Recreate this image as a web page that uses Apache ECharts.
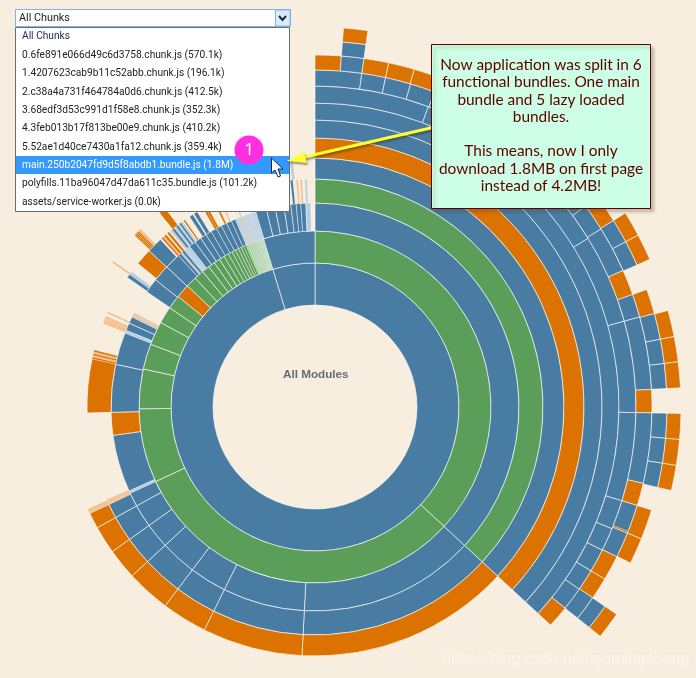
<!DOCTYPE html>
<html><head><meta charset="utf-8">
<style>html,body{margin:0;padding:0;background:#f7eee0}#c{width:696px;height:678px}</style>
<script src="https://cdn.jsdelivr.net/npm/echarts@6/dist/echarts.min.js"></script>
</head><body><div id="c"></div>
<script>
// Each ring: list of [angular span in degrees, kind]. b blue, g green, o orange, l pale blue, p pale orange, h pale green, n nothing
const ringEdges = [102,144,176,204,228,249,269,287,304,321,337,352,366,380];
const ring1 = [[343,'b'],[17,'b']];
const ring2 = [[132.8,'g'],[112.2,'g'],[24.5,'g'],[13.1,'g'],[8.4,'g'],[7.8,'g'],[5.6,'g'],[4.6,'g'],[4.6,'o'],
  [3.6,'g'],[3.2,'g'],[2.6,'g'],[2.2,'g'],[2,'g'],[1.8,'g'],[1.6,'g'],[1.4,'g'],[1.2,'g'],[1.1,'g'],[1,'g'],[.9,'g'],[.8,'g'],
  [.7,'h'],[.6,'h'],[.5,'h'],[.5,'h'],[.4,'h'],[.4,'h'],[.4,'h'],[.4,'h'],[.4,'h'],[.3,'h'],[.3,'h'],[.3,'h'],[.3,'h'],[.3,'h'],[.3,'h'],[17,'b']];
const ring3 = [[132.8,'b'],[50.2,'b'],[23.4,'b'],[10.6,'b'],[10.3,'b'],[7.2,'b'],[6.5,'b'],[4,'b'],[.7,'l'],[16.3,'b'],[6.5,'o'],[13.6,'b'],[9.2,'b'],[.8,'l'],[2.2,'b'],[1.9,'b'],[.5,'p'],[.4,'l'],[.4,'p'],[6.9,'n'],[4.2,'b'],[4.8,'b'],[4.6,'b'],
  [.9,'b'],[.5,'l'],[.7,'b'],[.5,'l'],[.6,'l'],[.8,'l'],[2,'b'],[1.9,'b'],[1.8,'b'],[1.7,'b'],[1.7,'b'],[1.6,'b'],[1.6,'b'],[1.5,'b'],[1.2,'b'],
  [.6,'l'],[.5,'l'],[.5,'l'],[.4,'p'],[.5,'l'],[.5,'l'],[.5,'l'],[.5,'l'],[.4,'l'],[.5,'l'],[.5,'l'],[.7,'l'],
  [3.1,'b'],[2.5,'b'],[2.5,'b'],[2,'b'],[1.5,'b'],[1.3,'b'],[1.4,'b'],[1.4,'l']];
const ring4 = [[132.8,'g'],[50.2,'b'],[23.4,'b'],[10.6,'b'],[10.3,'b'],[7.2,'b'],[6.5,'b'],[3.7,'b'],[.3,'p'],[.3,'p'],[.4,'p'],[.3,'p'],[22.5,'n'],[13.7,'o'],[.5,'o'],[.4,'p'],[.5,'o'],[.4,'p'],[.5,'o'],[7,'n'],[.4,'p'],[.4,'p'],[.4,'p'],[.4,'p'],[.4,'p'],[.8,'n'],[.4,'p'],[9.9,'n'],[1,'b'],[.8,'l'],[2.6,'n'],[4.3,'o'],[4,'b'],
  [.4,'n'],[.5,'o'],[.4,'p'],[.6,'o'],[.4,'n'],[.6,'o'],[.4,'n'],[.6,'l'],[.6,'b'],[.6,'l'],[.6,'b'],[.5,'l'],[.5,'b'],[.5,'l'],[.3,'n'],[.4,'o'],[1.4,'n'],[1,'b'],[.3,'n'],[1,'b'],[1.7,'n'],[.6,'o'],[.6,'o'],[1.9,'n'],[.5,'o'],[1,'n'],[.4,'p'],[3,'n'],[.4,'l'],[14.8,'n'],[.6,'b'],[.9,'n'],[.4,'p'],[.6,'n'],[.4,'p'],[.8,'n'],[.5,'l']];
const ring5 = [[132.8,'b'],[50.2,'o'],[23.4,'o'],[10.6,'o'],[10.3,'o'],[7.2,'o'],[6.5,'o'],[3.7,'o'],[.3,'p'],[.4,'p'],[.4,'p'],[59.7,'n'],[.4,'p'],[7.7,'n'],[.4,'o'],[.3,'o'],[.4,'o'],[.3,'o'],[.3,'p'],[.3,'p'],[5.7,'n'],[1.7,'o'],[31.2,'n'],[.7,'l']];
const ring6 = [[132.8,'o']];
const ring7 = [[132.8,'b']];
const ring8 = [[132.8,'b']];
const ring9 = [[20.7,'b'],[37.6,'b'],[16.2,'b'],[16.5,'b'],[16,'b'],[5.3,'b'],[4.2,'b'],[4.2,'b'],[3.9,'b'],[4.2,'b'],[4,'o']];
const ring10 = [[8,'b'],[4.1,'b'],[4.4,'b'],[4.3,'b'],[32.6,'b'],[4.7,'b'],[8,'b'],[4.4,'o'],[4,'b'],[12.5,'b'],[4,'o'],[12.1,'b'],[3.9,'o'],[4.7,'b'],[.3,'o'],[4.4,'b'],[4.3,'o'],[3.8,'o'],[4.3,'b']];
const ring11 = [[4.3,'o'],[3.7,'b'],[4.1,'o'],[4.3,'o'],[4.4,'o'],[32.6,'n'],[4.6,'o'],[4,'b'],[4.2,'b'],[4.3,'n'],[4.1,'o'],[4.3,'b'],[4,'b'],[4.1,'b'],[4,'n'],[4.1,'b'],[4.1,'b'],[4,'b'],[3.8,'n'],[5,'o'],[4.3,'o'],[8.2,'n'],[4.3,'b']];
const ring12 = [[4.3,'n'],[3.7,'b'],[50,'n'],[4,'o'],[4.2,'o'],[8.5,'n'],[4.2,'o'],[4,'o'],[4.1,'o'],[4,'n'],[4.1,'o'],[4.1,'o'],[4,'o'],[21.3,'n'],[4.3,'o']];
const ring13 = [[4.3,'n'],[3.7,'o']];
const rings = [ring1,ring2,ring3,ring4,ring5,ring6,ring7,ring8,ring9,ring10,ring11,ring12,ring13];

const chunkLabels = ['All Chunks','0.6fe891e066d49c6d3758.chunk.js (570.1k)','1.4207623cab9b11c52abb.chunk.js (196.1k)','2.c38a4a731f464784a0d6.chunk.js (412.5k)','3.68edf3d53c991d1f58e8.chunk.js (352.3k)','4.3feb013b17f813be00e9.chunk.js (410.2k)','5.52ae1d40ce7430a1fa12.chunk.js (359.4k)','main.250b2047fd9d5f8abdb1.bundle.js (1.8M)','polyfills.11ba96047d47da611c35.bundle.js (101.2k)','assets/service-worker.js (0.0k)'];
const chunkRowY = [36,55.5,73.5,92,110.5,128.5,147,165.5,183.5,202];
const noteLines = ['Now application was split in 6','functional bundles. One main','bundle and 5 lazy loaded','bundles.','','This means, now I only','download 1.8MB on first page','instead of 4.2MB!'];
const noteLineY = [65,82.5,100,117.5,135,151.5,169,186.5];
const centerLabel = 'All Modules';
const watermark = 'https://blog.csdn.net/qjumingsheng';

const palette = {b:'#487ca3',g:'#5a9e5a',o:'#dc7200',l:'#b5cde0',p:'#f2b67c',h:'#a5cfa6',n:'transparent'};
const WHITE = 'rgba(255,255,255,0.85)';

function pieFor(ring, i){
  const used = ring.reduce((a,s)=>a+s[0],0);
  const items = ring.concat(used < 359.99 ? [[360-used,'n']] : []);
  return {
    type:'pie', center:[315,407], radius:[ringEdges[i],ringEdges[i+1]],
    startAngle:90, clockwise:true, minAngle:0, silent:true, animation:false,
    label:{show:false}, labelLine:{show:false}, emphasis:{disabled:true},
    data:items.map(s=>({
      value:s[0],
      itemStyle:{
        color:palette[s[1]],
        borderColor:s[1]==='n'?'transparent':WHITE,
        borderWidth:s[1]==='n'?0:(s[0]<0.9?0.2:(s[0]<1.8?0.5:0.7))
      }
    }))
  };
}

const UI = 'Roboto, "Noto Sans", Tahoma, sans-serif';
const g = [];
// center label
g.push({type:'text',left:283,top:369,z:5,style:{text:centerLabel,font:'bold 11.7px "Liberation Sans", Arial, sans-serif',fill:'#666c75'}});
// watermark
g.push({type:'text',left:442,top:652,z:5,style:{text:watermark,font:'16px "Liberation Sans", Arial, sans-serif',fill:'rgba(255,255,255,0.4)',shadowColor:'rgba(120,110,90,0.25)',shadowBlur:1,shadowOffsetX:1,shadowOffsetY:1}});
// dropdown list
g.push({type:'rect',z:10,shape:{x:15.5,y:27.5,width:274,height:184},style:{fill:'#fff',stroke:'#6d6d6d',lineWidth:1}});
g.push({type:'rect',z:11,shape:{x:16,y:156,width:273,height:18},style:{fill:'#3399ff'}});
chunkLabels.forEach((t,i)=>g.push({type:'text',z:12,style:{text:t,x:22,y:chunkRowY[i],verticalAlign:'middle',font:'10.2px '+UI,fill:i===7?'#ffffff':(i===0?'#1a2a4a':'#222222')}}));
// select box
g.push({type:'rect',z:12,shape:{x:15.5,y:9.5,width:275,height:17},style:{fill:'#fff',stroke:'#7eb4ea',lineWidth:1}});
g.push({type:'rect',z:13,shape:{x:275.5,y:10,width:14.5,height:16},style:{fill:'#dcebfb',stroke:'#7eb4ea',lineWidth:1}});
g.push({type:'polyline',z:14,shape:{points:[[279,16],[282.5,20],[286,16]]},style:{stroke:'#1c2a3a',lineWidth:2,fill:null}});
g.push({type:'text',z:13,style:{text:chunkLabels[0],x:19,y:18,verticalAlign:'middle',font:'10.8px '+UI,fill:'#222'}});
// badge
g.push({type:'circle',z:15,shape:{cx:249,cy:150,r:14.5},style:{fill:'#ff2fe0'}});
g.push({type:'text',z:16,style:{text:'1',x:249,y:150,align:'center',verticalAlign:'middle',font:'17px "Noto Sans", sans-serif',fill:'#fff'}});
// cursor
g.push({type:'polygon',z:16,shape:{points:[[271.5,158],[271.5,173],[275,170],[278,177],[280.5,176],[278,169],[283,169]]},style:{fill:'#fff',stroke:'#14233a',lineWidth:1}});
// callout
g.push({type:'rect',z:18,shape:{x:431.5,y:44.5,width:219,height:164},style:{fill:'#ccffe6',stroke:'#5e0000',lineWidth:1,shadowColor:'rgba(80,70,50,0.3)',shadowBlur:3,shadowOffsetX:3,shadowOffsetY:3}});
noteLines.forEach((t,i)=>g.push({type:'text',z:19,style:{text:t,x:541,y:noteLineY[i],align:'center',verticalAlign:'middle',font:'15.4px Lato, "Noto Sans", sans-serif',fill:'#5e0000'}}));
// arrow
const sh = {shadowColor:'rgba(60,50,30,0.5)',shadowBlur:2,shadowOffsetX:1,shadowOffsetY:2};
g.push({type:'line',z:17,shape:{x1:435,y1:127,x2:300,y2:158},style:Object.assign({stroke:'#ffff33',lineWidth:3},sh)});
g.push({type:'polygon',z:17,shape:{points:[[287,161],[304,152],[307,163]]},style:Object.assign({fill:'#ffff33'},sh)});

const chart = echarts.init(document.getElementById('c'),null,{renderer:'canvas',width:696,height:678});
chart.setOption({backgroundColor:'#f7eee0',animation:false,series:rings.map(pieFor),graphic:{elements:g}});
</script></body></html>
